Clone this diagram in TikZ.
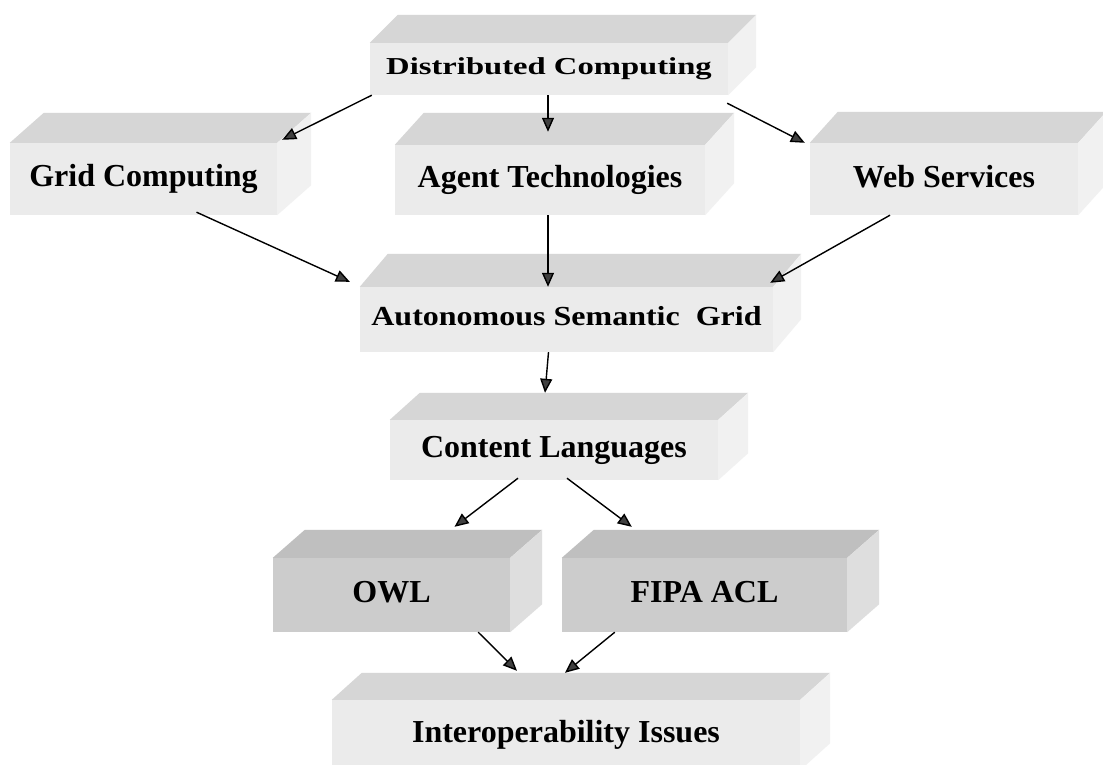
\documentclass[tikz,border=0pt]{standalone}
\usepackage{fontspec}
\usepackage{graphicx}
\setmainfont{Liberation Serif}
\usetikzlibrary{arrows.meta}
\colorlet{frontL}{gray!16}
\colorlet{topL}{gray!32}
\colorlet{sideL}{gray!11}
\colorlet{frontD}{gray!40}
\colorlet{topD}{gray!50}
\colorlet{sideD}{gray!26}
\newcommand\boxfaces[5]{%
  \fill[#4] (#1.north west) -- ([shift={(#2,-#3)}]#1.north west) -- ([shift={(#2,-#3)}]#1.north east) -- (#1.north east) -- cycle;
  \fill[#5] (#1.north east) -- ([shift={(#2,-#3)}]#1.north east) -- ([shift={(#2,-#3)}]#1.south east) -- (#1.south east) -- cycle;}
\tikzset{
  cube/.style={rectangle, inner sep=0pt, draw=none, font=\fontsize{32}{36}\selectfont\bfseries},
  lightbox/.style={cube, fill=frontL},
  darkbox/.style={cube, fill=frontD},
  arr/.style={draw=black, line width=1.4pt, -{Triangle[length=14pt,width=12pt,fill=black!75]}}
}
\begin{document}
\begin{tikzpicture}[x=1pt,y=-1pt]
\useasboundingbox (0,0) rectangle (1103,765);
\clip (0,0) rectangle (1103,765);
\fill[white] (0,0) rectangle (1103,765);

% boxes
\node[lightbox, minimum width=358pt, minimum height=52pt] (dc) at (549,69) {\scalebox{1.02}[0.76]{Distributed Computing}};
\boxfaces{dc}{28}{28}{topL}{sideL}

\node[lightbox, minimum width=267pt, minimum height=72pt] (gc) at (143.5,179) {\raisebox{6pt}{Grid Computing}};
\boxfaces{gc}{34}{30}{topL}{sideL}

\node[lightbox, minimum width=310pt, minimum height=70pt] (at) at (550,180) {Agent Technologies};
\boxfaces{at}{29}{32}{topL}{sideL}

\node[lightbox, minimum width=268pt, minimum height=72pt] (ws) at (944,179) {\raisebox{6pt}{Web Services}};
\boxfaces{ws}{28}{31}{topL}{sideL}

\node[lightbox, minimum width=413pt, minimum height=65pt] (asg) at (566.5,319.5) {\raisebox{7pt}{\scalebox{1}[0.86]{Autonomous Semantic\ \ Grid}}};
\boxfaces{asg}{28}{33}{topL}{sideL}

\node[lightbox, minimum width=328pt, minimum height=60pt] (cl) at (554,450) {Content Languages};
\boxfaces{cl}{30}{27}{topL}{sideL}

\node[darkbox, minimum width=237pt, minimum height=74pt] (owl) at (391.5,595) {\raisebox{6pt}{OWL}};
\boxfaces{owl}{32}{28}{topD}{sideD}

\node[darkbox, minimum width=285pt, minimum height=74pt] (fipa) at (704.5,595) {\raisebox{6pt}{FIPA ACL}};
\boxfaces{fipa}{32}{28}{topD}{sideD}

\node[lightbox, minimum width=468pt, minimum height=70pt] (ii) at (566,735) {\raisebox{2pt}{Interoperability Issues}};
\boxfaces{ii}{30}{27}{topL}{sideL}

% connectors
\draw[arr] ([xshift=2pt]dc.south west) -- ([shift={(5,-3)}]gc.north east);
\draw[arr] ([xshift=-1pt]dc.south) -- ([shift={(-2,-13)}]at.north);
\draw[arr] ([shift={(-1,8)}]dc.south east) -- ([shift={(-5,0)}]ws.north west);
\draw[arr] ([shift={(53,-3)}]gc.south) -- ([shift={(-10,-5)}]asg.north west);
\draw[arr] ([xshift=-2pt]at.south) -- ([shift={(-18.5,0)}]asg.north);
\draw[arr] ([xshift=-54pt]ws.south) -- ([shift={(-3,-4)}]asg.north east);
\draw[arr] ([xshift=-18pt]asg.south) -- ([shift={(-9,-27)}]cl.north);
\draw[arr] ([shift={(-36,-2)}]cl.south) -- ([shift={(63,-31)}]owl.north);
\draw[arr] ([shift={(13,-2)}]cl.south) -- ([shift={(70,-31)}]fipa.north west);
\draw[arr] ([xshift=-32pt]owl.south east) -- ([shift={(-49,-29)}]ii.north);
\draw[arr] ([xshift=53pt]fipa.south west) -- ([shift={(-1,-27)}]ii.north);
\end{tikzpicture}
\end{document}
